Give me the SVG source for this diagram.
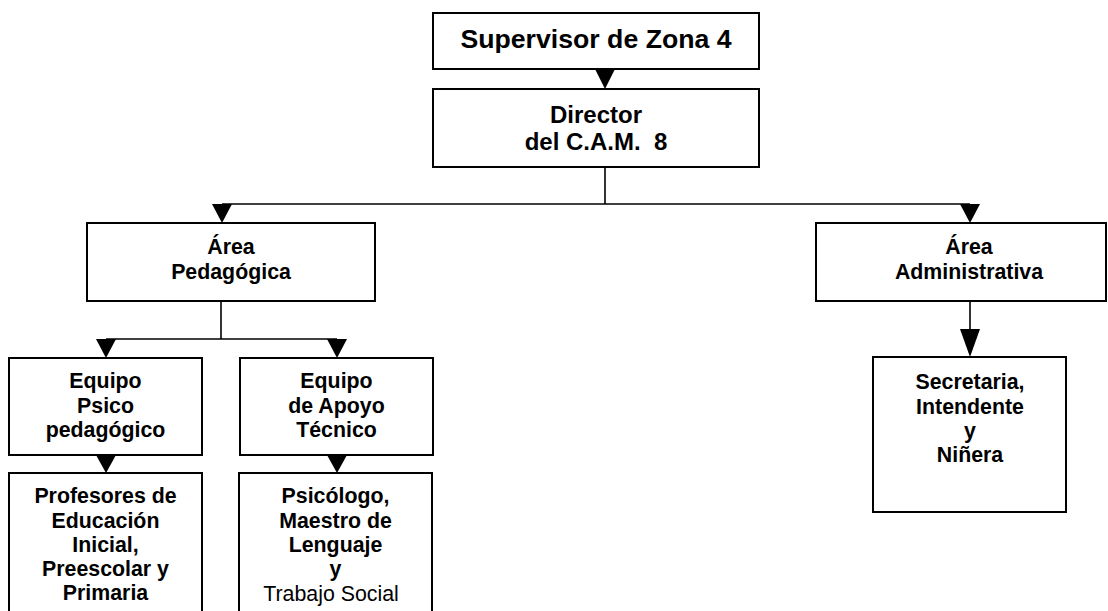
<svg xmlns="http://www.w3.org/2000/svg" width="1108" height="611" viewBox="0 0 1108 611">
<style>
.box{fill:#fff;stroke:#000;stroke-width:2}
.ln{fill:none;stroke:#000;stroke-width:1.6}
.ah{fill:#000;stroke:none}
text{font-family:"Liberation Sans",Arial,sans-serif;font-weight:bold;fill:#000;text-anchor:middle;font-size:21.33px}
.n{font-weight:normal}
.pre{white-space:pre}
</style>
<rect width="1108" height="611" fill="#fff"/>
<g id="connectors">
<line class="ln" x1="605" y1="167" x2="605" y2="204"/>
<line class="ln" x1="222" y1="204" x2="970" y2="204"/>
<line class="ln" x1="221" y1="301" x2="221" y2="339"/>
<line class="ln" x1="106" y1="339" x2="337" y2="339"/>
<line class="ln" x1="970" y1="301" x2="970" y2="330"/>
<path class="ah" d="M595,69 L615,69 L605,89 Z"/>
<path class="ah" d="M212,204 L232,204 L222,223 Z"/>
<path class="ah" d="M960,204 L980,204 L970,223 Z"/>
<path class="ah" d="M96,339 L116,339 L106,358 Z"/>
<path class="ah" d="M327,339 L347,339 L337,358 Z"/>
<path class="ah" d="M96,455 L116,455 L106,473 Z"/>
<path class="ah" d="M327,455 L347,455 L337,473 Z"/>
<path class="ah" d="M960,329 L980,329 L970,357 Z"/>
</g>
<g id="supervisor">
<rect class="box" x="433" y="13" width="326" height="56"/>
<text x="596" y="48" style="font-size:26.67px">Supervisor de Zona 4</text>
</g>
<g id="director">
<rect class="box" x="433" y="89" width="326" height="78"/>
<text x="596" y="123" style="font-size:24px">Director</text>
<text x="596" y="150" style="font-size:24px" class="pre" xml:space="preserve">del C.A.M.  8</text>
</g>
<g id="area-pedagogica">
<rect class="box" x="87" y="223" width="288" height="78"/>
<text x="231" y="254">Área</text>
<text x="231" y="279">Pedagógica</text>
</g>
<g id="area-administrativa">
<rect class="box" x="816" y="223" width="290" height="78"/>
<text x="969" y="254">Área</text>
<text x="969" y="279">Administrativa</text>
</g>
<g id="equipo-psico">
<rect class="box" x="9" y="358" width="193" height="97"/>
<text x="105.5" y="388">Equipo</text>
<text x="105.5" y="412.5">Psico</text>
<text x="105.5" y="437">pedagógico</text>
</g>
<g id="equipo-apoyo">
<rect class="box" x="240" y="358" width="193" height="97"/>
<text x="336.5" y="388">Equipo</text>
<text x="336.5" y="412.5">de Apoyo</text>
<text x="336.5" y="437">Técnico</text>
</g>
<g id="profesores">
<rect class="box" x="9" y="473" width="193" height="150"/>
<text x="105.5" y="503">Profesores de</text>
<text x="105.5" y="527.5">Educación</text>
<text x="105.5" y="552">Inicial,</text>
<text x="105.5" y="576">Preescolar y</text>
<text x="105.5" y="600">Primaria</text>
</g>
<g id="psicologo">
<rect class="box" x="239" y="473" width="193" height="150"/>
<text x="335.5" y="503">Psicólogo,</text>
<text x="335.5" y="527.5">Maestro de</text>
<text x="335.5" y="552">Lenguaje</text>
<text x="335.5" y="576">y</text>
<text x="331" y="601" class="n">Trabajo Social</text>
</g>
<g id="secretaria">
<rect class="box" x="873" y="357" width="193" height="155"/>
<text x="970" y="389">Secretaria,</text>
<text x="970" y="413.5">Intendente</text>
<text x="970" y="438">y</text>
<text x="970" y="462">Niñera</text>
</g>
</svg>
